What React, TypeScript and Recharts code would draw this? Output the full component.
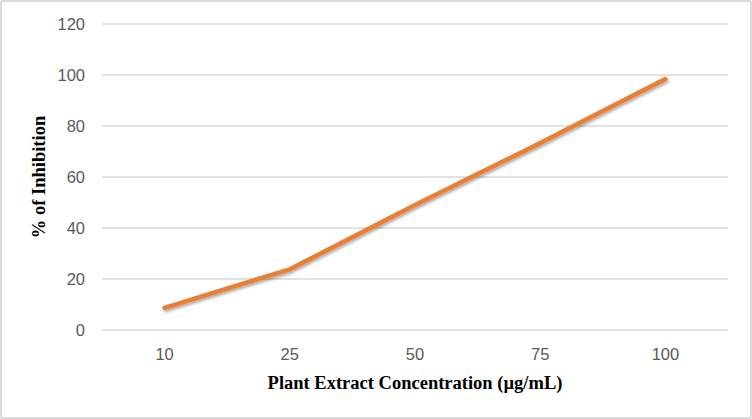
import React from "react";
import {
	CartesianGrid,
	Line,
	LineChart,
	XAxis,
	YAxis,
} from "recharts";

const concentrations = ["10", "25", "50", "75", "100"];
const inhibition = [8.7, 23.8, 49, 73.3, 98.4];
const yTicks = [0, 20, 40, 60, 80, 100, 120];

const data = concentrations.map((conc, i) => ({
	conc,
	value: inhibition[i],
}));

const tickStyle = {
	fill: "#595959",
	fontSize: 16.5,
	fontFamily: "Liberation Sans, Arial, sans-serif",
};

const titleFont = "Liberation Serif, Times New Roman, serif";

// half a category band on each side, like Excel's "between tick marks"
const bandPad = 626 / concentrations.length / 2;

function XTitle({ viewBox }: any) {
	const { x, width } = viewBox;
	return (
		<text
			x={x + width / 2}
			y={389}
			textAnchor="middle"
			fontFamily={titleFont}
			fontWeight="bold"
			fontSize={18.5}
			fill="#000"
		>
			Plant Extract Concentration (µg/mL)
		</text>
	);
}

function YTitle({ viewBox }: any) {
	const { y, height } = viewBox;
	return (
		<text
			transform={`translate(45, ${y + height / 2}) rotate(-90)`}
			textAnchor="middle"
			fontFamily={titleFont}
			fontWeight="bold"
			fontSize={18.5}
			fill="#000"
		>
			% of Inhibition
		</text>
	);
}

export default function App() {
	return (
		<div
			style={{
				position: "absolute",
				left: 0,
				top: 0,
				width: 752,
				height: 419,
				background: "#fff",
			}}
		>
			<div
				style={{
					position: "absolute",
					left: 0,
					top: 0,
					width: 752,
					height: 419,
					boxSizing: "border-box",
					border: "2px solid #d9d9d9",
					borderRadius: 3,
				}}
			/>
			<LineChart
				width={752}
				height={419}
				data={data}
				margin={{ top: 24, right: 24, left: 0, bottom: 0 }}
				style={{ position: "absolute", left: 0, top: 0 }}
			>
				<defs>
					<filter id="lineShadow" x="-10%" y="-10%" width="120%" height="130%">
						<feDropShadow
							dx="1"
							dy="2"
							stdDeviation="1.5"
							floodColor="#000"
							floodOpacity="0.35"
						/>
					</filter>
				</defs>
				<CartesianGrid vertical={false} stroke="#d9d9d9" strokeWidth={1.3} />
				<XAxis
					dataKey="conc"
					height={89}
					axisLine={false}
					tickLine={false}
					tickSize={0}
					tickMargin={18}
					tick={tickStyle}
					interval={0}
					padding={{ left: bandPad, right: bandPad }}
					label={<XTitle />}
				/>
				<YAxis
					width={102}
					domain={[0, 120]}
					ticks={yTicks}
					axisLine={false}
					tickLine={false}
					tickSize={0}
					tickMargin={17}
					tick={tickStyle}
					label={<YTitle />}
				/>
				<Line
					type="linear"
					dataKey="value"
					stroke="#ED7D31"
					strokeWidth={4.5}
					strokeLinecap="round"
					strokeLinejoin="round"
					dot={false}
					activeDot={false}
					filter="url(#lineShadow)"
					isAnimationActive={false}
				/>
			</LineChart>
		</div>
	);
}
